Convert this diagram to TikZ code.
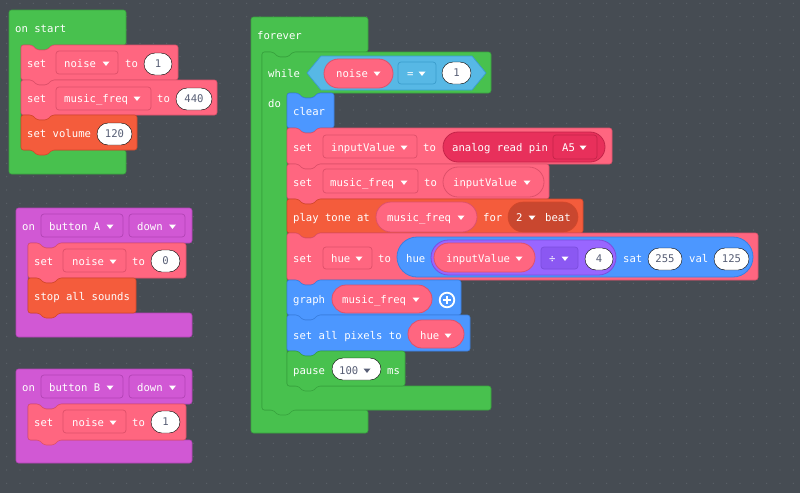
\documentclass[tikz,border=0pt]{standalone}
\usepackage{fontspec}
\newfontfamily\mono{DejaVu Sans Mono}
\definecolor{bgc}{HTML}{464C53}
\definecolor{dotc}{HTML}{5C6269}
\definecolor{greenc}{HTML}{48C14E}
\definecolor{greend}{HTML}{38A33E}
\definecolor{pinkc}{HTML}{FF6680}
\definecolor{pinkd}{HTML}{DE506A}
\definecolor{orangec}{HTML}{F45C3C}
\definecolor{oranged}{HTML}{D4472B}
\definecolor{dorangec}{HTML}{C9472F}
\definecolor{purplec}{HTML}{D158D4}
\definecolor{purpled}{HTML}{B243B5}
\definecolor{bluec}{HTML}{4C97FF}
\definecolor{blued}{HTML}{3A7FE0}
\definecolor{lbluec}{HTML}{57B8E5}
\definecolor{lblued}{HTML}{3A9DCC}
\definecolor{anc}{HTML}{E8305B}
\definecolor{and}{HTML}{C42449}
\definecolor{mathc}{HTML}{9966FF}
\definecolor{mathd}{HTML}{7B4DDD}
\definecolor{mathdd}{HTML}{8B58F2}
\definecolor{numc}{HTML}{575E75}
\newcommand\stk[5]{\draw[#1] (#2,#3) -- ({#2+11},#3) -- ({#2+16},{#3+5}) -- ({#2+26},{#3+5}) -- ({#2+31},#3) -- (#4,#3) -- (#4,#5) -- ({#2+31},#5) -- ({#2+26},{#5+5}) -- ({#2+16},{#5+5}) -- ({#2+11},#5) -- (#2,#5) -- cycle;}
\newcommand\hatc[8]{\draw[#1] (#2,#3) -- (#4,#3) -- (#4,#5) -- ({#6+31},#5) -- ({#6+26},{#5+5}) -- ({#6+16},{#5+5}) -- ({#6+11},#5) -- (#6,#5) -- (#6,#7) -- (#4,#7) -- (#4,#8) -- (#2,#8) -- cycle;}
\newcommand\dtri[3]{\fill[#1] ({#2-3.5},{#3-2}) -- ({#2+3.5},{#3-2}) -- (#2,{#3+2.4}) -- cycle;}
\tikzset{
  lbl/.style={anchor=mid west, inner sep=0pt, yshift=-1.7pt, text=white, font=\mono\fontsize{10.6}{12}\selectfont},
  num/.style={anchor=mid, inner sep=0pt, yshift=-1.2pt, text=numc, font=\mono\fontsize{10.6}{12}\selectfont},
  numl/.style={anchor=mid west, inner sep=0pt, yshift=-1.2pt, text=numc, font=\mono\fontsize{10.6}{12}\selectfont},
  blk/.style={line width=0.6pt, rounded corners=2.5pt},
  greenblk/.style={blk, fill=greenc, draw=greend},
  pinkblk/.style={blk, fill=pinkc, draw=pinkd},
  orangeblk/.style={blk, fill=orangec, draw=oranged},
  purpleblk/.style={blk, fill=purplec, draw=purpled},
  blueblk/.style={blk, fill=bluec, draw=blued},
  dd/.style={line width=0.7pt, rounded corners=3pt},
  pinkdd/.style={dd, fill=pinkc, draw=pinkd},
  purpledd/.style={dd, fill=purplec, draw=purpled},
  bluedd/.style={dd, fill=lbluec, draw=lblued},
  andd/.style={dd, fill=anc, draw=and},
  mathdds/.style={dd, fill=mathdd, draw=mathd},
  oval/.style={fill=white, rounded corners=11pt},
  pinkrep/.style={fill=pinkc, draw=pinkd, line width=0.8pt},
}
\begin{document}
\begin{tikzpicture}[x=1pt,y=-1pt]
\useasboundingbox (0,0) rectangle (800,493);
\fill[bgc] (0,0) rectangle (800,493);
\foreach \i in {0,...,59} {\foreach \j in {0,...,36} {\fill[dotc] ({6.667+13.333*\i},{3.333+13.333*\j}) circle (0.7);}}
% ---------- on start
\hatc{greenblk}{9}{10}{126}{45}{21}{150}{174}
\node[lbl] (os) at (15,29) {on start};
\stk{pinkblk}{21}{45}{178}{80}
\node[lbl] (os1) at (27,64) {set};
\draw[pinkdd] (56,51) rectangle (118,74);
\node[lbl] (os1v) at (64,64) {noise}; \dtri{white}{106}{63.5}
\node[lbl] (os1t) at (125,64) {to};
\draw[oval] (144,53) rectangle (172,75); \node[num] (os1n) at (158,64) {1};
\stk{pinkblk}{21}{80}{217}{115}
\node[lbl] (os2) at (27,99) {set};
\draw[pinkdd] (56,87) rectangle (151,110);
\node[lbl] (os2v) at (64,99) {music\_freq}; \dtri{white}{137}{98.5}
\node[lbl] (os2t) at (157,99) {to};
\draw[oval] (176,88) rectangle (212,110); \node[num] (os2n) at (194,99) {440};
\stk{orangeblk}{21}{115}{137}{150}
\node[lbl] (os3) at (27,134) {set volume};
\draw[oval] (97,123) rectangle (132,145); \node[num] (os3n) at (114.5,134) {120};
% ---------- on button A
\hatc{purpleblk}{16}{208}{192}{243}{28}{313}{337}
\node[lbl] (ba) at (22,227) {on};
\draw[purpledd] (41,214) rectangle (123,237);
\node[lbl] (bab) at (49,227) {button A}; \dtri{white}{110}{226.5}
\draw[purpledd] (129,214) rectangle (185,237);
\node[lbl] (bad) at (137,227) {down}; \dtri{white}{172.5}{226.5}
\stk{pinkblk}{28}{243}{186}{278}
\node[lbl] (ba1) at (34,262) {set};
\draw[pinkdd] (63,249) rectangle (126,272);
\node[lbl] (ba1v) at (72,262) {noise}; \dtri{white}{113}{261.5}
\node[lbl] (ba1t) at (132,262) {to};
\draw[oval] (151,250) rectangle (180,272); \node[num] (ba1n) at (165.5,261) {0};
\stk{orangeblk}{28}{278}{136}{313}
\node[lbl] (ba2) at (34,297) {stop all sounds};
% ---------- on button B
\hatc{purpleblk}{16}{369}{192}{404}{28}{440}{463}
\node[lbl] (bb) at (22,388) {on};
\draw[purpledd] (41,375) rectangle (123,398);
\node[lbl] (bbb) at (49,388) {button B}; \dtri{white}{110}{387.5}
\draw[purpledd] (129,375) rectangle (185,398);
\node[lbl] (bbd) at (137,388) {down}; \dtri{white}{172.5}{387.5}
\stk{pinkblk}{28}{404}{186}{440}
\node[lbl] (bb1) at (34,423) {set};
\draw[pinkdd] (63,410) rectangle (126,433);
\node[lbl] (bb1v) at (72,423) {noise}; \dtri{white}{113}{422.5}
\node[lbl] (bb1t) at (132,423) {to};
\draw[oval] (151,411) rectangle (180,433); \node[num] (bb1n) at (165.5,422) {1};
% ---------- forever
\hatc{greenblk}{251}{17}{368}{52}{262}{410}{433}
\node[lbl] (fe) at (257,36) {forever};
\draw[greenblk] (262,52) -- (273,52) -- (278,57) -- (288,57) -- (293,52) -- (491,52) -- (491,93) -- (318,93) -- (313,98) -- (303,98) -- (298,93) -- (287,93) -- (287,386) -- (491,386) -- (491,410) -- (293,410) -- (288,415) -- (278,415) -- (273,410) -- (262,410) -- cycle;
\node[lbl] (wh) at (268,74) {while};
\node[lbl] (do) at (268,104) {do};
\draw[fill=lbluec, draw=lblued, line width=0.7pt] (307,73) -- (321,56) -- (472,56) -- (486,73) -- (472,90) -- (321,90) -- cycle;
\draw[pinkrep, rounded corners=14.5pt] (324,59) rectangle (393,88);
\node[lbl] (whv) at (336,74) {noise}; \dtri{white}{377}{73.5}
\draw[bluedd] (398,62) rectangle (436,84);
\node[lbl] (whe) at (407,74) {=}; \dtri{white}{422}{73.5}
\draw[oval] (442,62) rectangle (471,84); \node[num] (whn) at (456.5,73) {1};
% clear
\stk{blueblk}{287}{93}{334}{128}
\node[lbl] (cl) at (293,112) {clear};
% set inputValue
\stk{pinkblk}{287}{128}{612}{164}
\node[lbl] (si) at (293,148) {set};
\draw[pinkdd] (323,135) rectangle (417,158);
\node[lbl] (siv) at (331,148) {inputValue}; \dtri{white}{404}{147.5}
\node[lbl] (sit) at (423,148) {to};
\draw[fill=anc, draw=and, line width=0.8pt, rounded corners=15pt] (443,132) rectangle (605,162);
\node[lbl] (sia) at (452,148) {analog read pin};
\draw[andd] (553,135) rectangle (597,159);
\node[lbl] (sip) at (562,148) {A5}; \dtri{white}{583}{147.5}
% set music_freq
\stk{pinkblk}{287}{164}{549}{199}
\node[lbl] (sm) at (293,183) {set};
\draw[pinkdd] (323,169) rectangle (418,193);
\node[lbl] (smv) at (330,183) {music\_freq}; \dtri{white}{404}{182.5}
\node[lbl] (smt) at (424,183) {to};
\draw[pinkrep, rounded corners=15pt] (443,167) rectangle (544,197);
\node[lbl] (smr) at (453,183) {inputValue}; \dtri{white}{527}{182.5}
% play tone
\stk{orangeblk}{287}{199}{583}{233}
\node[lbl] (pt) at (293,218) {play tone at};
\draw[pinkrep, rounded corners=15pt] (376,202) rectangle (477,232);
\node[lbl] (ptv) at (387,218) {music\_freq}; \dtri{white}{461}{217.5}
\node[lbl] (ptf) at (483,218) {for};
\draw[fill=dorangec, draw=oranged, line width=0.6pt, rounded corners=15pt] (508,202) rectangle (578,232);
\node[lbl] (ptn) at (516,218) {2}; \dtri{white}{532}{217.5}
\node[lbl] (ptb) at (545,218) {beat};
% set hue
\stk{pinkblk}{287}{233}{758}{280}
\node[lbl] (sh) at (293,259) {set};
\draw[pinkdd] (323,247) rectangle (372,269);
\node[lbl] (shv) at (331,259) {hue}; \dtri{white}{359}{258.5}
\node[lbl] (sht) at (378,259) {to};
\draw[fill=bluec, draw=blued, line width=0.8pt, rounded corners=20pt] (397,237) rectangle (753,277);
\node[lbl] (shh) at (406,259) {hue};
\draw[fill=mathc, draw=mathd, line width=0.8pt, rounded corners=17.5pt] (431,240) rectangle (616,275);
\draw[pinkrep, rounded corners=14.5pt] (434,243) rectangle (535,272);
\node[lbl] (shi) at (446,259) {inputValue}; \dtri{white}{519}{258.5}
\draw[mathdds] (541,247) rectangle (578,269);
\node[lbl] (shd) at (549,259) {÷}; \dtri{white}{565}{258.5}
\draw[oval] (585,248) rectangle (613,270); \node[num] (sh4) at (599,259) {4};
\node[lbl] (shs) at (623,259) {sat};
\draw[oval] (648,248) rectangle (682,270); \node[num] (sh255) at (665,259) {255};
\node[lbl] (shl) at (689,259) {val};
\draw[oval] (714,248) rectangle (749,270); \node[num] (sh125) at (731.5,259) {125};
% graph
\stk{blueblk}{287}{280}{461}{315}
\node[lbl] (gr) at (293,300) {graph};
\draw[pinkrep, rounded corners=14pt] (332,285) rectangle (432,313);
\node[lbl] (grv) at (342,300) {music\_freq}; \dtri{white}{416}{299.5}
\draw[white, line width=1.8pt] (447,300) circle (7.3);
\draw[white, line width=2pt] (443,300) -- (451,300) (447,296) -- (447,304);
% set all pixels
\stk{blueblk}{287}{315}{470}{351}
\node[lbl] (sp) at (293,336) {set all pixels to};
\draw[pinkrep, rounded corners=14pt] (408,320) rectangle (464,348);
\node[lbl] (spv) at (420,336) {hue}; \dtri{white}{448}{335.5}
% pause
\stk{greenblk}{287}{351}{405}{386}
\node[lbl] (pa) at (293,371) {pause};
\draw[oval] (332,358) rectangle (381,380);
\node[numl] (pan) at (339,371) {100}; \dtri{numc}{367}{370.5}
\node[lbl] (pam) at (387,371) {ms};
\end{tikzpicture}
\end{document}
